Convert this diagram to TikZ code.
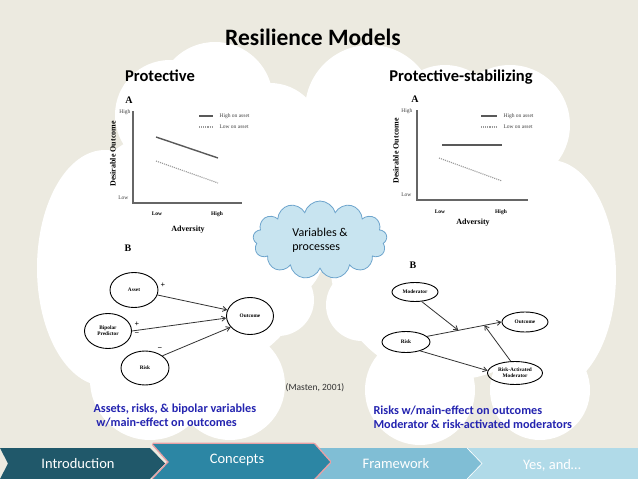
\documentclass[tikz,border=0pt]{standalone}
\usepackage{fontspec}
\setmainfont{Carlito}
\newfontfamily\serf{Liberation Serif}
\usetikzlibrary{shapes.geometric,shapes.symbols,arrows.meta,calc}
\definecolor{bg}{RGB}{236,234,224}
\definecolor{navA}{RGB}{32,88,106}
\definecolor{navB}{RGB}{44,134,164}
\definecolor{navC}{RGB}{128,190,213}
\definecolor{navD}{RGB}{176,218,232}
\definecolor{glow}{RGB}{232,160,165}
\definecolor{bluetxt}{RGB}{36,36,176}
\definecolor{cloudline}{RGB}{110,165,205}
\definecolor{cloudfill}{RGB}{200,228,240}
\begin{document}
\begin{tikzpicture}[x=1pt,y=-1pt,
  ttl/.style={font=\bfseries\fontsize{16.5}{19}\selectfont},
  tiny/.style={font=\serf\fontsize{5.5}{6}\selectfont, text=black!75},
  axl/.style={font=\serf\bfseries\fontsize{5.5}{6}\selectfont},
  advl/.style={font=\serf\bfseries\fontsize{8}{9}\selectfont},
  panel/.style={font=\serf\bfseries\fontsize{10}{11}\selectfont},
  axisln/.style={draw=black!60, line width=1.3pt},
  hiln/.style={draw=black!65, line width=1.4pt},
  loln/.style={draw=black!40, line width=1.1pt, densely dotted},
  ell/.style={ellipse, draw, line width=0.9pt, inner sep=0pt, font=\serf\bfseries\fontsize{5.3}{6}\selectfont, align=center},
  arr/.style={draw=black!80, line width=0.8pt, -{Straight Barb[length=4pt,width=5pt]}},
  sgn/.style={font=\serf\bfseries\fontsize{8}{8}\selectfont},
  btxt/.style={font=\bfseries\fontsize{12.2}{14}\selectfont, text=bluetxt, align=left},
  navtxt/.style={font=\fontsize{14.5}{16}\selectfont, text=white}]
\useasboundingbox (0,0) rectangle (638,479);
\fill[bg] (0,0) rectangle (638,479);
% white clouds
\fill[white] (170,115) circle (55pt) (215,100) circle (58pt) (270,135) circle (52pt)
  (105,268) ellipse (68pt and 118pt) (150,380) circle (60pt)
  (230,385) circle (55pt) (190,250) circle (125pt) (270,250) circle (55pt) (278,300) circle (36pt);
\fill[white] (370,110) circle (65pt) (445,120) circle (55pt) (510,125) circle (60pt)
  (550,275) ellipse (66pt and 115pt) (540,390) circle (50pt)
  (420,390) circle (55pt) (450,260) circle (120pt) (365,230) circle (45pt) (362,305) circle (36pt);
\fill[white] (315,175) circle (45pt) (342,180) circle (30pt);
% titles
\node[font=\bfseries\fontsize{23.5}{26}\selectfont] (title) at (313,37) {Resilience Models};
\node[ttl] (prot) at (160,76) {Protective};
\node[ttl] (protst) at (461,77) {Protective-stabilizing};
% ---- left plot A
\node[panel] (la) at (129,100) {A};
\draw[axisln] (133,111) -- (133,203) -- (242,203);
\node[tiny, anchor=east] (lhi) at (134,112) {High};
\node[tiny, anchor=east] (llo) at (132,198) {Low};
\draw[hiln] (199,116) -- (213,116);
\node[tiny, anchor=west] (lleg1) at (216,116) {High on asset};
\draw[loln] (199,127) -- (213,127);
\node[tiny, anchor=west] (lleg2) at (216,127) {Low on asset};
\draw[hiln] (156,137) -- (218,158);
\draw[loln] (156,161) -- (218,183);
\node[axl] (lxl) at (157,214) {Low};
\node[axl] (lxh) at (217,214) {High};
\node[advl] (ladv) at (188,230) {Adversity};
\node[advl, rotate=90] (ldes) at (113,154) {Desirable Outcome};
% ---- right plot A
\node[panel] (ra) at (415,99) {A};
\draw[axisln] (417,110) -- (417,200) -- (528,200);
\node[tiny, anchor=east] (rhi) at (416,111) {High};
\node[tiny, anchor=east] (rlo) at (415,195) {Low};
\draw[hiln] (481,116) -- (497,116);
\node[tiny, anchor=west] (rleg1) at (500,116) {High on asset};
\draw[loln] (481,127) -- (497,127);
\node[tiny, anchor=west] (rleg2) at (500,127) {Low on asset};
\draw[hiln] (442,145) -- (502,145);
\draw[loln] (439,158) -- (502,181);
\node[axl] (rxl) at (440,212) {Low};
\node[axl] (rxh) at (501,212) {High};
\node[advl] (radv) at (473,223) {Adversity};
\node[advl, rotate=90] (rdes) at (396,151) {Desirable Outcome};
% ---- left B
\node[panel] (lb) at (128,248) {B};
\node[ell, minimum width=48pt, minimum height=35pt] (asset) at (134,290) {Asset};
\node[ell, minimum width=47pt, minimum height=35pt] (bip) at (108,331) {Bipolar\\Predictor};
\node[ell, minimum width=48pt, minimum height=34pt] (risk) at (145,368) {Risk};
\node[ell, minimum width=47pt, minimum height=37pt] (out) at (250,316) {Outcome};
\draw[arr] (asset.-12) -- (out.165);
\draw[arr] (bip.east) -- (out.185);
\draw[arr] (risk.35) -- (out.210);
\node[sgn] (s1) at (163,285) {+};
\node[sgn] (s2) at (137,324) {+};
\node[sgn] (s3) at (137,334) {\textminus};
\node[sgn] (s4) at (160,349) {\textminus};
% ---- right B
\node[panel] (rb) at (413,265) {B};
\node[ell, minimum width=46pt, minimum height=19pt] (mod) at (415,292) {Moderator};
\node[ell, minimum width=48pt, minimum height=21pt] (riskr) at (406,342) {Risk};
\node[ell, minimum width=46pt, minimum height=20pt] (outr) at (525,322) {Outcome};
\node[ell, minimum width=55pt, minimum height=23pt] (ram) at (515,373) {Risk-Activated\\Moderator};
\draw[arr] (riskr.15) -- (outr.west);
\coordinate (m1) at ($(riskr.15)!0.42!(outr.west)$);
\coordinate (m2) at ($(riskr.15)!0.77!(outr.west)$);
\draw[arr] (mod.-55) -- (m1);
\draw[arr] (riskr.-32) -- (ram.175);
\draw[arr] (ram.110) -- (m2);
% ---- blue cloud
\node[cloud, cloud puffs=13, aspect=2.3, draw=cloudline, fill=cloudfill, line width=0.8pt,
  minimum width=134pt, minimum height=78pt, inner sep=0pt, align=left,
  font=\fontsize{12}{14}\selectfont] (vp) at (320,240) {Variables \&\\processes};
% ---- texts
\node[font=\fontsize{9.5}{10}\selectfont, text=black!80] (masten) at (315,388) {(Masten, 2001)};
\node[btxt, anchor=north west] (ltxt) at (90,400) {Assets, risks, \& bipolar variables\\\ w/main-effect on outcomes};
\node[btxt, anchor=north west] (rtxt) at (370,402) {Risks w/main-effect on outcomes\\Moderator \& risk-activated moderators};
% ---- nav bar
\fill[navA] (0,448) -- (150,448) -- (165,463.5) -- (150,479) -- (0,479) -- (8,463.5) -- cycle;
\fill[navC] (315,448) -- (467,448) -- (482,463.5) -- (467,479) -- (315,479) -- (330,463.5) -- cycle;
\fill[navD] (467,448) -- (638,448) -- (638,479) -- (467,479) -- (482,463.5) -- cycle;
\draw[white, line width=0.6pt] (467,448) -- (482,463.5) -- (467,479);
\draw[glow, line width=3pt, rounded corners=1pt] (153,444) -- (314,444) -- (330,462) -- (314,479) -- (153,479) -- (169,462) -- cycle;
\fill[navB] (153,444) -- (314,444) -- (330,462) -- (314,479) -- (153,479) -- (169,462) -- cycle;
\node[navtxt] (intro) at (78,464) {Introduction};
\node[navtxt] (conc) at (237,460) {Concepts};
\node[navtxt] (frame) at (396,464) {Framework};
\node[navtxt] (yes) at (552,465) {Yes, and…};
\end{tikzpicture}
\end{document}
